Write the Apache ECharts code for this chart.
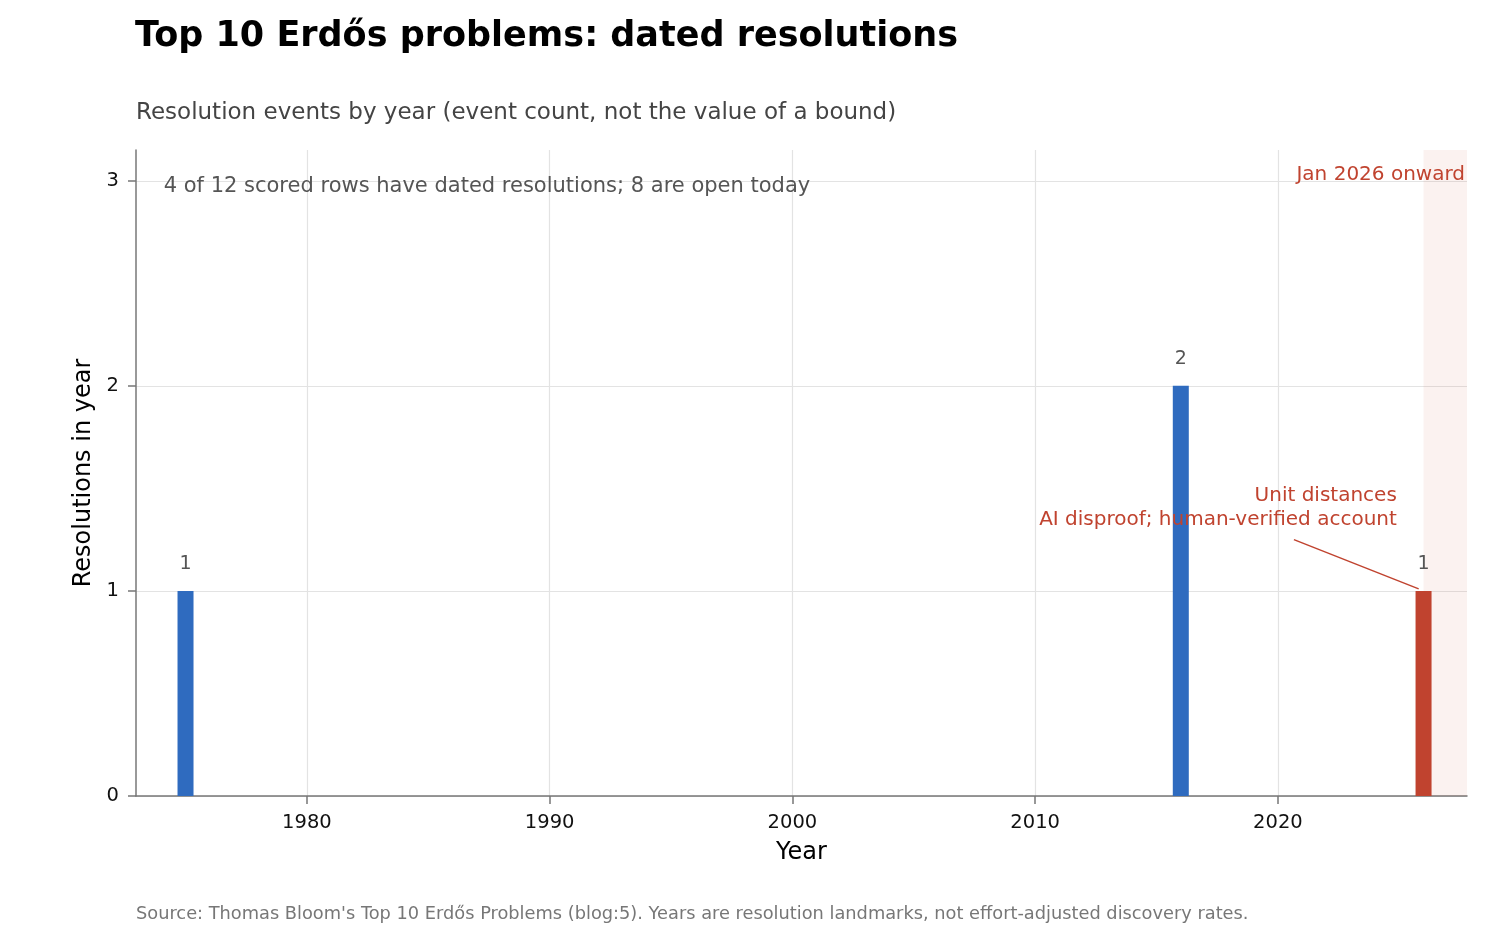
<!DOCTYPE html>
<html lang="en">
<head>
<meta charset="utf-8">
<title>Top 10 Erdős problems: dated resolutions</title>
<script src="https://cdn.jsdelivr.net/npm/echarts@6/dist/echarts.min.js"></script>
<style>
  html, body { margin: 0; padding: 0; background: #fff; }
  #main { width: 1512px; height: 936px; }
</style>
</head>
<body>
<div id="main"></div>
<script>
// resolution events per year
var years = [1975, 2016, 2026];
var counts = [1, 2, 1];
var yearTicks = [1980, 1990, 2000, 2010, 2020];
var countTicks = [0, 1, 2, 3];
var shadeStart = 2026;

var FONT = 'DejaVu Sans';
var BLUE = '#2f6bbf';
var RED = '#c0432f';
var xMin = 1972.96, xMax = 2027.79;

var chart = echarts.init(document.getElementById('main'));

var barData = [];
for (var i = 0; i < years.length; i++) {
  barData.push([years[i], counts[i]]);
}

var option = {
  animation: false,
  textStyle: { fontFamily: FONT },
  title: [{
    text: 'Top 10 Erdős problems: dated resolutions',
    left: 130, top: 14,
    textStyle: { fontFamily: FONT, fontSize: 35, fontWeight: 'bold', color: '#000' }
  }, {
    text: 'Resolution events by year (event count, not the value of a bound)',
    left: 131, top: 97,
    textStyle: { fontFamily: FONT, fontSize: 23, fontWeight: 'normal', color: '#444' }
  }, {
    text: "Source: Thomas Bloom's Top 10 Erdős Problems (blog:5). Years are resolution landmarks, not effort-adjusted discovery rates.",
    left: 131, top: 900,
    textStyle: { fontFamily: FONT, fontSize: 17.8, fontWeight: 'normal', color: '#777' }
  }],
  grid: { left: 136, right: 45, top: 150, bottom: 140, containLabel: false },
  xAxis: {
    type: 'value',
    min: xMin, max: xMax,
    name: 'Year', nameLocation: 'middle', nameGap: 45,
    nameTextStyle: { fontFamily: FONT, fontSize: 24, color: '#000' },
    axisLine: { show: true, lineStyle: { color: '#777', width: 1.5 } },
    axisTick: { show: true, length: 8, lineStyle: { color: '#777', width: 1.5 }, customValues: yearTicks },
    axisLabel: { fontFamily: FONT, fontSize: 19.5, color: '#111', margin: 17, customValues: yearTicks,
      formatter: function (v) { return String(v); } },
    splitLine: { show: true, lineStyle: { color: '#e3e3e3', width: 1.2 } }
  },
  yAxis: {
    type: 'value',
    min: 0, max: 3.15,
    name: 'Resolutions in year', nameLocation: 'middle', nameGap: 40,
    nameTextStyle: { fontFamily: FONT, fontSize: 24, color: '#000' },
    axisLine: { show: true, lineStyle: { color: '#777', width: 1.5 } },
    axisTick: { show: true, length: 8, lineStyle: { color: '#777', width: 1.5 }, customValues: countTicks },
    axisLabel: { fontFamily: FONT, fontSize: 19.5, color: '#111', margin: 17, customValues: countTicks },
    splitLine: { show: true, lineStyle: { color: '#e3e3e3', width: 1.2 } }
  },
  series: [{
    type: 'bar',
    data: barData,
    barWidth: 16,
    itemStyle: {
      color: function (p) { return p.value[0] >= shadeStart ? RED : BLUE; }
    },
    label: {
      show: true, position: 'top', distance: 17,
      fontFamily: FONT, fontSize: 19, color: '#555',
      formatter: function (p) { return p.value[1]; }
    },
    markArea: {
      silent: true,
      itemStyle: { color: 'rgba(192,67,47,0.07)' },
      label: { show: false },
      data: [[{ xAxis: shadeStart }, { xAxis: xMax }]]
    },
    markLine: {
      silent: true,
      symbol: ['none', 'none'],
      label: { show: false },
      lineStyle: { color: RED, width: 1.5, type: 'solid' },
      data: [[{ coord: [2020.66, 1.25] }, { coord: [2025.8, 1.01] }]]
    },
    z: 3
  }]
};

chart.setOption(option);

// annotation texts placed with the axis scales, drawn above the bars
var pShade = chart.convertToPixel({ gridIndex: 0 }, [xMax, 3.03]);
var pNote = chart.convertToPixel({ gridIndex: 0 }, [2024.9, 1.29]);
var pInfo = chart.convertToPixel({ gridIndex: 0 }, [1974.1, 2.97]);

chart.setOption({
  graphic: [{
    type: 'text', x: pShade[0] - 2, y: pShade[1], z: 100,
    style: { text: 'Jan 2026 onward', fill: RED, font: '20px "DejaVu Sans"', align: 'right', verticalAlign: 'middle' }
  }, {
    type: 'text', x: pNote[0], y: pNote[1], z: 100,
    style: { text: 'Unit distances\nAI disproof; human-verified account', fill: RED, font: '20px "DejaVu Sans"', align: 'right', verticalAlign: 'bottom', lineHeight: 24 }
  }, {
    type: 'text', x: pInfo[0], y: pInfo[1], z: 100,
    style: { text: '4 of 12 scored rows have dated resolutions; 8 are open today', fill: '#555', font: '21px "DejaVu Sans"', align: 'left', verticalAlign: 'middle' }
  }]
});
</script>
</body>
</html>
